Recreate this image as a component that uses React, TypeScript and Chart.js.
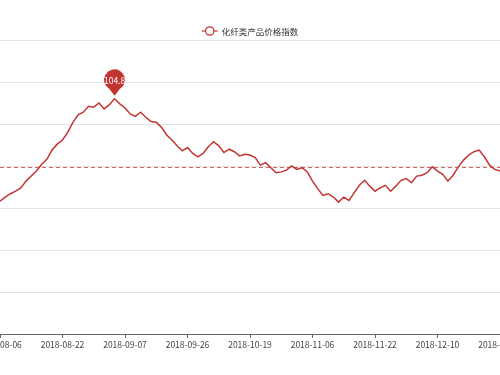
import React, { useEffect, useRef } from 'react';
import { Chart, registerables } from 'chart.js';

Chart.register(...registerables);

const seriesName = '化纤类产品价格指数';

const categories: string[] = [
  '2018-08-06', '2018-08-07', '2018-08-08', '2018-08-09', '2018-08-10', '2018-08-13', '2018-08-14', '2018-08-15',
  '2018-08-16', '2018-08-17', '2018-08-20', '2018-08-21', '2018-08-22', '2018-08-23', '2018-08-24', '2018-08-27',
  '2018-08-28', '2018-08-29', '2018-08-30', '2018-08-31', '2018-09-03', '2018-09-04', '2018-09-05', '2018-09-06',
  '2018-09-07', '2018-09-10', '2018-09-11', '2018-09-12', '2018-09-13', '2018-09-14', '2018-09-17', '2018-09-18',
  '2018-09-19', '2018-09-20', '2018-09-21', '2018-09-25', '2018-09-26', '2018-09-27', '2018-09-28', '2018-10-08',
  '2018-10-09', '2018-10-10', '2018-10-11', '2018-10-12', '2018-10-15', '2018-10-16', '2018-10-17', '2018-10-18',
  '2018-10-19', '2018-10-22', '2018-10-23', '2018-10-24', '2018-10-25', '2018-10-26', '2018-10-29', '2018-10-30',
  '2018-10-31', '2018-11-01', '2018-11-02', '2018-11-05', '2018-11-06', '2018-11-07', '2018-11-08', '2018-11-09',
  '2018-11-12', '2018-11-13', '2018-11-14', '2018-11-15', '2018-11-16', '2018-11-19', '2018-11-20', '2018-11-21',
  '2018-11-22', '2018-11-23', '2018-11-26', '2018-11-27', '2018-11-28', '2018-11-29', '2018-11-30', '2018-12-03',
  '2018-12-04', '2018-12-05', '2018-12-06', '2018-12-07', '2018-12-10', '2018-12-11', '2018-12-12', '2018-12-13',
  '2018-12-14', '2018-12-17', '2018-12-18', '2018-12-19', '2018-12-20', '2018-12-21', '2018-12-24', '2018-12-25',
  '2018-12-26',
];

const priceIndex: number[] = [
  103.58, 103.63, 103.67, 103.70, 103.74, 103.82, 103.88, 103.94, 104.02, 104.08,
  104.19, 104.26, 104.31, 104.40, 104.52, 104.61, 104.64, 104.71, 104.70, 104.75,
  104.68, 104.73, 104.80, 104.74, 104.69, 104.62, 104.59, 104.64, 104.58, 104.53,
  104.52, 104.46, 104.37, 104.31, 104.24, 104.18, 104.22, 104.15, 104.11, 104.15,
  104.23, 104.29, 104.24, 104.16, 104.20, 104.17, 104.12, 104.14, 104.13, 104.10,
  104.01, 104.04, 103.98, 103.92, 103.93, 103.95, 104.00, 103.96, 103.98, 103.93,
  103.82, 103.73, 103.65, 103.67, 103.63, 103.57, 103.63, 103.59, 103.68, 103.77,
  103.83, 103.76, 103.70, 103.74, 103.77, 103.70, 103.76, 103.83, 103.85, 103.80,
  103.88, 103.89, 103.92, 103.99, 103.94, 103.90, 103.82, 103.89, 103.99, 104.07,
  104.13, 104.17, 104.19, 104.11, 104.01, 103.96, 103.94,
];

const averageValue = 103.99;
const yMin = 102;
const yMax = 105.5;
const yStep = 0.5;
const labelEvery = 12;

const lineColor = '#c23531';
const fontFamily = "'Noto Sans CJK SC', 'Noto Sans', sans-serif";

const legendPlugin = {
  id: 'topLegend',
  afterDraw(chart: any) {
    const ctx = chart.ctx;
    ctx.save();
    ctx.font = `8.5px ${fontFamily}`;
    const tw = ctx.measureText(seriesName).width;
    const iconW = 16;
    const gap = 4;
    const total = iconW + gap + tw;
    const x0 = chart.width / 2 - total / 2;
    const y = 31;
    ctx.strokeStyle = lineColor;
    ctx.lineWidth = 1.2;
    ctx.beginPath();
    ctx.moveTo(x0, y);
    ctx.lineTo(x0 + iconW, y);
    ctx.stroke();
    ctx.beginPath();
    ctx.arc(x0 + iconW / 2, y, 4.2, 0, Math.PI * 2);
    ctx.fillStyle = '#fff';
    ctx.fill();
    ctx.stroke();
    ctx.fillStyle = '#333';
    ctx.textBaseline = 'middle';
    ctx.textAlign = 'left';
    ctx.fillText(seriesName, x0 + iconW + gap, y + 0.5);
    ctx.restore();
  },
};

const markPlugin = {
  id: 'marks',
  afterDatasetsDraw(chart: any) {
    const ctx = chart.ctx;
    const area = chart.chartArea;
    const yScale = chart.scales.y;
    // average line
    const ay = Math.round(yScale.getPixelForValue(averageValue)) + 0.5;
    ctx.save();
    ctx.strokeStyle = 'rgba(194,53,49,0.75)';
    ctx.lineWidth = 1;
    ctx.setLineDash([4, 3]);
    ctx.beginPath();
    ctx.moveTo(area.left, ay);
    ctx.lineTo(area.right, ay);
    ctx.stroke();
    ctx.restore();

    // max pin
    const data = chart.data.datasets[0].data as number[];
    let mi = 0;
    data.forEach((v, i) => {
      if (v > data[mi]) mi = i;
    });
    const pt = chart.getDatasetMeta(0).data[mi];
    const tipX = pt.x;
    const tipY = pt.y - 3;
    const r = 10.5;
    const cy = tipY - 16;
    const ang = Math.asin(r / (tipY - cy));
    ctx.save();
    ctx.fillStyle = lineColor;
    ctx.beginPath();
    const a0 = Math.PI / 2 + (Math.PI / 2 - ang) * 0.6;
    const a1 = Math.PI / 2 - (Math.PI / 2 - ang) * 0.6;
    ctx.moveTo(tipX, tipY);
    ctx.lineTo(tipX + r * Math.cos(a0), cy + r * Math.sin(a0));
    ctx.arc(tipX, cy, r, a0, a1 + Math.PI * 2, false);
    ctx.closePath();
    ctx.fill();
    ctx.fillStyle = '#fff';
    ctx.font = `8.5px ${fontFamily}`;
    ctx.textAlign = 'center';
    ctx.textBaseline = 'middle';
    ctx.fillText(data[mi].toFixed(1), tipX, cy + 0.5);
    ctx.restore();
  },
};

export default function App() {
  const canvasRef = useRef<HTMLCanvasElement | null>(null);

  useEffect(() => {
    document.body.style.margin = '0';
    const canvas = canvasRef.current;
    if (!canvas) return;
    const chart = new Chart(canvas, {
      type: 'line',
      data: {
        labels: categories,
        datasets: [
          {
            label: seriesName,
            data: priceIndex,
            borderColor: lineColor,
            backgroundColor: lineColor,
            borderWidth: 1.5,
            pointRadius: 0,
            pointHoverRadius: 0,
            tension: 0,
            fill: false,
          },
        ],
      },
      options: {
        responsive: false,
        animation: false,
        devicePixelRatio: 1,
        layout: { padding: { top: 40, left: 0, right: 0, bottom: 0 } },
        plugins: {
          legend: { display: false },
          tooltip: { enabled: false },
        },
        scales: {
          x: {
            type: 'category',
            offset: false,
            afterFit(scale: any) {
              scale.paddingLeft = 0;
              scale.paddingRight = 0;
              scale.height = 41;
            },
            border: { display: true, color: '#666', width: 1 },
            grid: {
              drawOnChartArea: false,
              drawTicks: true,
              tickLength: 4,
              color: (ctx: any) => (ctx.index % labelEvery === 0 ? '#666' : 'rgba(0,0,0,0)'),
            },
            ticks: {
              autoSkip: false,
              maxRotation: 0,
              minRotation: 0,
              padding: 1.5,
              color: '#444',
              font: { family: fontFamily, size: 8.5 },
              callback: (_v: any, i: number) => (i % labelEvery === 0 ? categories[i] : ''),
            },
          },
          y: {
            type: 'linear',
            min: yMin,
            max: yMax,
            afterFit(scale: any) {
              scale.width = 0;
            },
            border: { display: false },
            grid: { color: '#e3e3e3', drawTicks: false, lineWidth: 1 },
            ticks: { display: false, stepSize: yStep },
          },
        },
      },
      plugins: [legendPlugin, markPlugin],
    } as any);
    return () => chart.destroy();
  }, []);

  return (
    <div style={{ width: 500, height: 375 }}>
      <canvas ref={canvasRef} width={500} height={375} style={{ display: 'block', width: 500, height: 375 }} />
    </div>
  );
}
